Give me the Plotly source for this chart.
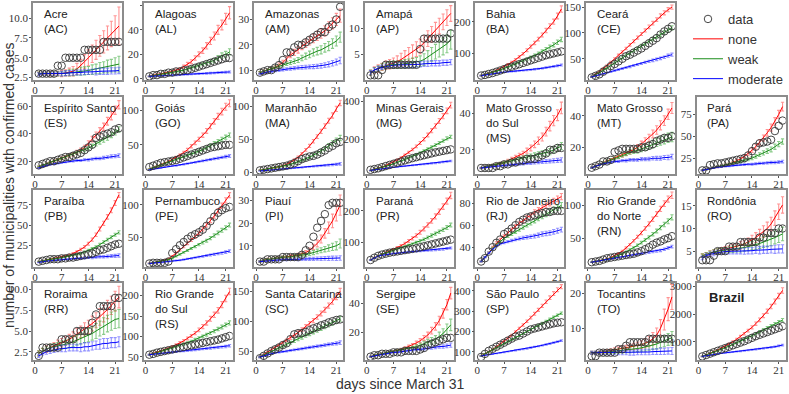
import plotly.graph_objects as go

# ── data ──────────────────────────────────────────────────────────────────────

DAYS = list(range(1, 23))

GRID = [
    ['AC', 'AL', 'AM', 'AP', 'BA', 'CE', None],
    ['ES', 'GO', 'MA', 'MG', 'MS', 'MT', 'PA'],
    ['PB', 'PE', 'PI', 'PR', 'RJ', 'RN', 'RO'],
    ['RR', 'RS', 'SC', 'SE', 'SP', 'TO', 'BR'],
]

LABELS = {
    'AC': 'Acre<br>(AC)', 'AL': 'Alagoas<br>(AL)', 'AM': 'Amazonas<br>(AM)',
    'AP': 'Amapá<br>(AP)', 'BA': 'Bahia<br>(BA)', 'CE': 'Ceará<br>(CE)',
    'ES': 'Espírito Santo<br>(ES)', 'GO': 'Goiás<br>(GO)', 'MA': 'Maranhão<br>(MA)',
    'MG': 'Minas Gerais<br>(MG)', 'MS': 'Mato Grosso<br>do Sul<br>(MS)',
    'MT': 'Mato Grosso<br>(MT)', 'PA': 'Pará<br>(PA)', 'PB': 'Paraíba<br>(PB)',
    'PE': 'Pernambuco<br>(PE)', 'PI': 'Piauí<br>(PI)', 'PR': 'Paraná<br>(PR)',
    'RJ': 'Rio de Janeiro<br>(RJ)', 'RN': 'Rio Grande<br>do Norte<br>(RN)',
    'RO': 'Rondônia<br>(RO)', 'RR': 'Roraima<br>(RR)', 'RS': 'Rio Grande<br>do Sul<br>(RS)',
    'SC': 'Santa Catarina<br>(SC)', 'SE': 'Sergipe<br>(SE)', 'SP': 'São Paulo<br>(SP)',
    'TO': 'Tocantins<br>(TO)', 'BR': '<b>Brazil</b>',
}

Y_TICKS = {
    'AC': [2.5, 5, 7.5, 10], 'AL': [0, 20, 40, 60], 'AM': [10, 20, 30], 'AP': [5, 10],
    'BA': [100, 200], 'CE': [50, 100, 150], 'ES': [20, 40, 60], 'GO': [50, 100],
    'MA': [0, 50, 100], 'MG': [200, 400], 'MS': [20, 40], 'MT': [20, 40],
    'PA': [25, 50, 75], 'PB': [25, 50, 75], 'PE': [50, 100], 'PI': [10, 20, 30],
    'PR': [100, 200], 'RJ': [40, 60, 80], 'RN': [50, 100], 'RO': [5, 10, 15],
    'RR': [2.5, 5, 7.5, 10], 'RS': [50, 100, 150, 200], 'SC': [50, 100, 150],
    'SE': [20, 40], 'SP': [100, 200, 300, 400], 'TO': [10, 20], 'BR': [1000, 2000, 3000],
}

Y_RANGE = {
    'AC': [2.2, 11.9], 'AL': [-1, 62], 'AM': [6.1, 36.5], 'AP': [0.1, 14.8],
    'BA': [16, 259], 'CE': [9, 158], 'ES': [10.7, 66.6], 'GO': [8, 119],
    'MA': [-2.5, 114], 'MG': [16, 423], 'MS': [6.7, 49], 'MT': [3, 52],
    'PA': [6.8, 95], 'PB': [-1.6, 93], 'PE': [4.6, 123], 'PI': [0.6, 34.7],
    'PR': [23, 265], 'RJ': [22, 92], 'RN': [5.6, 124], 'RO': [1.5, 18.5],
    'RR': [1.5, 10.8], 'RS': [42, 231], 'SC': [35, 164], 'SE': [0.7, 54],
    'SP': [60, 438], 'TO': [0.9, 23], 'BR': [340, 3120],
}

DATA = {
    'AC': [3, 3, 3, 3, 3, 4, 4, 5, 5, 5, 5, 5, 6, 6, 6, 6, 6, 7, 7, 7, 7, 7],
    'AL': [2, 3, 3, 4, 4, 5, 5, 6, 6, 7, 7, 8, 9, 10, 11, 12, 13, 14, 15, 16, 17, 17],
    'AM': [9, 9.5, 10, 10, 11, 12, 14, 17, 17, 19, 20, 20, 21, 22, 23, 24, 25, 25, 27, 28, 30, 35],
    'AP': [1, 1, 1, 2, 3, 3, 3, 3, 3, 3, 3, 3, 3, 6, 8, 8, 8, 8, 8, 8, 8, 9],
    'BA': [30, 32, 35, 38, 42, 46, 50, 55, 58, 62, 66, 70, 74, 78, 82, 86, 90, 94, 97, 100, 103, 106],
    'CE': [14, 17, 20, 25, 30, 36, 40, 45, 50, 55, 58, 62, 66, 70, 75, 80, 85, 90, 97, 103, 108, 113],
    'ES': [17, 18, 19, 20, 20, 21, 22, 23, 23, 24, 25, 26, 28, 30, 32, 37, 38, 39, 40, 41, 43, 44],
    'GO': [18, 20, 22, 24, 25, 26, 27, 28, 30, 32, 34, 36, 38, 40, 42, 44, 46, 47, 48, 49, 50, 50],
    'MA': [3, 4, 5, 6, 7, 8, 9, 10, 12, 14, 17, 20, 22, 24, 25, 27, 30, 33, 37, 40, 44, 46],
    'MG': [38, 42, 46, 52, 58, 64, 70, 76, 82, 88, 94, 100, 105, 110, 115, 120, 125, 130, 134, 138, 142, 146],
    'MS': [10, 10, 10, 10, 11, 11, 12, 12, 13, 13, 14, 14, 15, 15, 15, 16, 17, 18, 20, 20, 21, 21],
    'MT': [7, 8, 9, 11, 11, 12, 17, 18, 19, 19, 19, 19, 19, 20, 20, 21, 22, 24, 25, 26, 26, 27],
    'PA': [11, 11, 17, 18, 19, 19, 20, 21, 22, 23, 24, 25, 28, 33, 38, 42, 43, 44, 46, 56, 62, 68],
    'PB': [5, 6, 7, 8, 8, 8, 9, 9, 10, 10, 11, 12, 13, 14, 15, 17, 19, 20, 22, 24, 26, 27],
    'PE': [10, 11, 11, 11, 11, 13, 26, 32, 38, 43, 48, 52, 55, 58, 62, 68, 75, 82, 88, 92, 95, 97],
    'PI': [3, 3, 4, 4, 4, 4, 5, 5, 5, 5, 5, 6, 8, 10, 14, 18, 21, 24, 28, 29, 29, 29],
    'PR': [45, 52, 58, 62, 65, 68, 70, 72, 74, 76, 78, 80, 82, 85, 88, 91, 94, 97, 100, 103, 106, 109],
    'RJ': [27, 30, 36, 40, 44, 47, 52, 54, 57, 60, 63, 65, 67, 68, 69, 70, 71, 72, 72, 73, 73, 73],
    'RN': [13, 14, 15, 17, 19, 20, 21, 22, 23, 24, 25, 26, 28, 30, 33, 36, 40, 43, 45, 48, 50, 53],
    'RO': [3, 3, 3, 4, 5, 5, 5, 6, 6, 6, 7, 7, 7, 7, 7, 8, 8, 9, 9, 9, 10, 10],
    'RR': [2, 3, 3, 3, 3, 3, 4, 4, 4, 4, 5, 5, 5, 5, 6, 7, 8, 8, 8, 8, 9, 9],
    'RS': [55, 57, 60, 62, 64, 66, 68, 70, 72, 74, 76, 78, 80, 82, 84, 86, 88, 90, 92, 95, 98, 101],
    'SC': [38, 42, 46, 50, 53, 56, 60, 63, 70, 78, 80, 80, 82, 85, 88, 90, 93, 95, 98, 100, 102, 103],
    'SE': [3, 4, 4, 5, 5, 5, 6, 6, 6, 7, 7, 7, 7, 8, 9, 11, 12, 13, 14, 15, 16, 16],
    'SP': [75, 90, 105, 115, 125, 135, 145, 155, 165, 175, 180, 190, 200, 210, 215, 220, 225, 230, 235, 240, 243, 245],
    'TO': [2, 2, 3, 3, 3, 3, 3, 4, 4, 5, 6, 6, 6, 6, 6, 7, 7, 7, 7, 7, 7, 7],
    'BR': [470, 520, 570, 620, 670, 720, 770, 820, 870, 920, 970, 1020, 1080, 1140, 1200, 1250, 1300, 1350, 1400, 1450, 1500, 1560],
}

NONE = {
    'AC': [3, 3, 3, 3, 3, 3, 3, 3.1, 3.2, 3.3, 3.6, 4.0, 4.5, 5.0, 5.5, 6.0, 6.5, 7.0, 7.5, 8.0, 8.5, 9.0],
    'AL': [2, 3, 3.5, 4, 4.5, 5, 6, 7, 8, 10, 12, 14, 17, 20, 23, 27, 31, 35, 40, 44, 49, 54],
    'AM': [9, 9.5, 10, 10.5, 11, 12, 13, 14.5, 16, 17, 18, 19.5, 20.5, 21.5, 22.5, 23.5, 24.5, 25.5, 27, 28.5, 30, 31.5],
    'AP': [1.5, 2, 2.3, 2.6, 2.9, 3.1, 3.3, 3.6, 4, 4.5, 5, 5.5, 6, 6.5, 7.2, 8, 8.8, 9.6, 10.4, 11.2, 12, 12.8],
    'BA': [30, 33, 37, 41, 46, 52, 58, 65, 72, 80, 89, 99, 110, 121, 133, 145, 158, 172, 186, 200, 218, 240],
    'CE': [15, 20, 25, 31, 37, 43, 50, 57, 63, 70, 77, 84, 91, 98, 105, 112, 119, 126, 133, 139, 145, 150],
    'ES': [16, 17, 18, 19, 20, 21, 22, 23, 24, 25, 26.5, 28, 30, 33, 36, 39, 42, 45, 49, 53, 57, 61],
    'GO': [15, 17, 19, 21, 23, 26, 29, 32, 35, 39, 43, 48, 53, 58, 64, 70, 77, 84, 91, 98, 105, 110],
    'MA': [3, 4, 5, 6, 7, 8, 10, 12, 15, 19, 23, 28, 34, 40, 47, 54, 62, 70, 78, 86, 96, 105],
    'MG': [35, 40, 46, 53, 61, 70, 80, 91, 103, 116, 130, 145, 162, 180, 200, 222, 245, 270, 296, 322, 350, 380],
    'MS': [10, 10.5, 11, 11.5, 12, 12.5, 13, 14, 15, 16, 17, 18, 19.5, 21, 23, 25, 27, 30, 33, 36, 39, 43],
    'MT': [7, 8, 9, 10, 11, 12, 13, 14, 15, 16, 17, 18.5, 20, 22, 24, 26, 28.5, 31, 34, 37, 41, 45],
    'PA': [11, 12, 13, 14, 15, 16, 17, 18, 20, 22, 24, 27, 30, 34, 38, 43, 48, 54, 60, 67, 75, 84],
    'PB': [5, 6, 7, 8, 9, 10, 11, 12, 13, 15, 17, 20, 23, 27, 32, 38, 45, 52, 60, 68, 77, 87],
    'PE': [10, 11, 12, 13, 15, 17, 21, 26, 31, 36, 41, 46, 51, 57, 63, 69, 76, 83, 91, 99, 107, 115],
    'PI': [3, 3.5, 4, 4, 4.5, 4.5, 5, 5, 5.5, 5.5, 6, 6.5, 7, 8, 9.5, 11, 13, 15.5, 18, 21, 24.5, 28],
    'PR': [45, 52, 58, 63, 68, 73, 78, 84, 90, 97, 105, 113, 122, 132, 143, 155, 168, 182, 197, 213, 230, 248],
    'RJ': [27, 31, 35, 40, 44, 47, 50, 53, 56, 59, 62, 64, 67, 69, 72, 74, 76, 78, 80, 82, 84, 86],
    'RN': [13, 14, 15, 16, 18, 20, 23, 26, 30, 35, 40, 46, 52, 58, 65, 72, 79, 87, 95, 103, 110, 116],
    'RO': [4, 4.3, 4.6, 4.8, 5, 5.2, 5.4, 5.6, 5.8, 6, 6.3, 6.6, 7, 7.5, 8, 8.6, 9.3, 10, 11, 12.3, 13.7, 15.2],
    'RR': [2.3, 2.6, 2.8, 3, 3.2, 3.4, 3.6, 3.8, 4, 4.3, 4.6, 4.9, 5.2, 5.5, 5.9, 6.3, 6.7, 7.1, 7.6, 8.1, 8.6, 9.1],
    'RS': [55, 58, 61, 64, 67, 71, 75, 79, 84, 89, 95, 101, 108, 116, 124, 133, 143, 153, 164, 178, 193, 210],
    'SC': [40, 44, 48, 52, 56, 60, 64, 68, 72, 76, 81, 86, 91, 96, 101, 107, 113, 119, 126, 133, 141, 150],
    'SE': [3, 4, 4.5, 5, 5.5, 6, 6.5, 7, 8, 9, 10, 11, 12.5, 14, 16, 18, 21, 24, 28, 33, 39, 47],
    'SP': [80, 90, 100, 112, 125, 138, 152, 167, 182, 198, 215, 232, 250, 268, 287, 306, 326, 346, 366, 386, 405, 420],
    'TO': [3, 3, 3, 3.2, 3.4, 3.6, 3.8, 4, 4.2, 4.4, 4.6, 4.8, 5, 5.3, 5.7, 6.2, 7, 8, 10, 12.5, 15.5, 19],
    'BR': [470, 520, 580, 640, 700, 770, 840, 920, 1000, 1090, 1190, 1290, 1400, 1520, 1650, 1790, 1940, 2100, 2270, 2450, 2650, 2850],
}

WEAK = {
    'AC': [3, 3, 3, 3, 3, 3, 3, 3.05, 3.1, 3.15, 3.2, 3.3, 3.35, 3.4, 3.5, 3.6, 3.7, 3.8, 3.9, 4.0, 4.1, 4.2],
    'AL': [2, 2.5, 3, 3.5, 4, 4.5, 5, 5.5, 6, 7, 8, 9, 10, 11, 12, 13, 14, 15, 17, 19, 20, 22],
    'AM': [9, 9.5, 10, 10.5, 11, 11.5, 12, 12.5, 13, 13.5, 14, 14.8, 15.5, 16.2, 17, 17.5, 18, 18.8, 19.5, 20.5, 21.5, 23],
    'AP': [1.5, 2, 2.3, 2.6, 2.8, 3, 3, 3, 3.1, 3.2, 3.3, 3.4, 3.5, 3.7, 4, 4.5, 5, 5.5, 6, 6.5, 7, 7.8],
    'BA': [30, 33, 36, 40, 44, 48, 52, 57, 62, 67, 72, 77, 82, 88, 94, 100, 106, 113, 120, 127, 135, 144],
    'CE': [15, 19, 23, 27, 32, 37, 42, 47, 52, 57, 61, 66, 70, 75, 79, 84, 88, 93, 97, 101, 105, 110],
    'ES': [16, 17, 18, 19, 20, 21, 22, 23, 24, 25, 26, 27, 28, 29.5, 31, 32.5, 34, 35.5, 37, 39, 41, 43],
    'GO': [15, 17, 19, 21, 23, 25, 27, 29, 31, 33, 35, 37, 39, 41, 43, 46, 49, 52, 55, 58, 61, 64],
    'MA': [3, 4, 5, 6, 7, 8, 9, 10, 12, 14, 16, 18, 20, 23, 26, 29, 32, 36, 40, 44, 48, 52],
    'MG': [35, 40, 45, 51, 57, 63, 70, 77, 85, 93, 101, 110, 119, 128, 138, 148, 158, 169, 180, 192, 204, 212],
    'MS': [10, 10.5, 11, 11.5, 12, 12.5, 13, 13.5, 14, 14.5, 15, 15.5, 16, 16.5, 17, 17.5, 18, 18.5, 19, 20, 21, 22],
    'MT': [7, 8, 9, 10, 11, 12, 13, 14, 15, 16, 17, 17.5, 18, 19, 20, 21, 22, 23, 24, 25, 26, 26.5],
    'PA': [11, 12, 13, 14, 15, 16, 17, 18, 19, 20, 21, 22, 23.5, 25, 27, 29, 31, 33, 35, 38, 41, 44],
    'PB': [5, 6, 7, 8, 8.5, 9, 10, 11, 12, 13, 14, 15, 17, 19, 21, 23, 26, 29, 32, 35, 38, 41],
    'PE': [10, 11, 12, 13, 14, 16, 18, 21, 24, 27, 30, 33, 36, 39, 42, 45, 49, 53, 57, 61, 65, 69],
    'PI': [3, 3.5, 4, 4, 4.5, 4.5, 5, 5, 5, 5.5, 5.5, 6, 6, 6.5, 7, 7.5, 8, 8.5, 9, 9.5, 10, 11],
    'PR': [45, 52, 58, 63, 67, 71, 75, 79, 83, 87, 91, 95, 100, 105, 110, 116, 122, 128, 134, 140, 147, 155],
    'RJ': [27, 31, 35, 39, 42, 45, 48, 50, 52, 54, 56, 58, 60, 62, 64, 66, 68, 70, 72, 74, 76, 78],
    'RN': [13, 14, 15, 16, 17, 19, 21, 23, 26, 29, 32, 35, 39, 43, 47, 51, 56, 61, 66, 71, 76, 82],
    'RO': [4, 4.3, 4.6, 4.8, 5, 5.1, 5.2, 5.3, 5.4, 5.5, 5.6, 5.8, 6, 6.2, 6.4, 6.7, 7, 7.3, 7.6, 8, 8.4, 8.8],
    'RR': [2.3, 2.6, 2.8, 3, 3.1, 3.2, 3.3, 3.4, 3.5, 3.7, 3.9, 4.1, 4.3, 4.5, 4.7, 5, 5.3, 5.6, 5.9, 6.2, 6.4, 6.5],
    'RS': [55, 57, 60, 63, 66, 69, 72, 75, 78, 81, 84, 88, 92, 96, 100, 104, 108, 113, 118, 123, 128, 133],
    'SC': [40, 43, 46, 49, 52, 55, 58, 61, 64, 67, 70, 73, 76, 79, 82, 85, 88, 91, 94, 97, 100, 104],
    'SE': [3, 4, 4.5, 5, 5.5, 6, 6.5, 7, 7.5, 8, 8.5, 9, 10, 11, 12, 13, 14, 15, 17, 19, 22, 25],
    'SP': [80, 90, 100, 110, 120, 130, 140, 150, 160, 170, 180, 190, 200, 210, 220, 230, 240, 250, 260, 270, 280, 290],
    'TO': [3, 3, 3, 3.1, 3.2, 3.3, 3.4, 3.5, 3.6, 3.7, 3.8, 4, 4.2, 4.4, 4.6, 4.9, 5.2, 5.5, 5.9, 6.3, 6.8, 7.3],
    'BR': [470, 520, 570, 620, 670, 720, 780, 840, 900, 960, 1020, 1080, 1150, 1220, 1290, 1360, 1430, 1500, 1570, 1640, 1710, 1780],
}

MODERATE = {
    'AC': [2.9, 3, 3, 3, 3, 3, 3, 3.05, 3.1, 3.1, 3.15, 3.15, 3.2, 3.2, 3.25, 3.25, 3.3, 3.3, 3.3, 3.35, 3.35, 3.4],
    'AL': [2, 2, 2.2, 2.4, 2.6, 2.8, 3, 3, 3.2, 3.4, 3.6, 3.8, 4, 4.1, 4.2, 4.4, 4.6, 4.8, 5, 5.2, 5.4, 5.6],
    'AM': [8.5, 9, 9.2, 9.5, 9.8, 10, 10.2, 10.4, 10.6, 10.8, 11, 11.1, 11.2, 11.3, 11.4, 11.5, 11.7, 12, 12.3, 12.7, 13.2, 13.8],
    'AP': [1.5, 2, 2.3, 2.5, 2.7, 2.8, 2.9, 3, 3, 3, 3, 3, 3.1, 3.1, 3.2, 3.2, 3.3, 3.3, 3.3, 3.4, 3.4, 3.5],
    'BA': [30, 32, 34, 36, 38, 40, 41, 42, 43, 44, 45, 46, 47, 48, 50, 51, 53, 55, 57, 59, 61, 63],
    'CE': [15, 17, 19, 21, 23, 25, 27, 29, 31, 33, 35, 37, 39, 41, 43, 45, 47, 49, 51, 53, 56, 58],
    'ES': [15, 16, 17, 17.5, 18, 18.5, 19, 19.5, 20, 20, 20.5, 20.5, 21, 21, 21.5, 22, 22, 22.5, 23, 23.5, 23.7, 24],
    'GO': [14, 15, 16, 17, 18, 19, 20, 20, 21, 22, 23, 24, 25, 26, 27, 28, 29, 30, 31, 32, 33, 34],
    'MA': [2, 2.5, 3, 3.5, 4, 4.5, 5, 5.5, 6, 6.5, 7, 7.5, 8, 8.5, 9, 9.5, 10, 10.5, 11, 11.5, 12, 13],
    'MG': [35, 38, 41, 44, 47, 50, 52, 54, 56, 58, 60, 62, 64, 66, 68, 70, 72, 74, 76, 79, 82, 85],
    'MS': [10, 10.3, 10.6, 10.9, 11, 11.2, 11.4, 11.6, 11.8, 12, 12.2, 12.4, 12.6, 12.8, 13, 13.2, 13.4, 13.6, 13.8, 14, 14.2, 14.4],
    'MT': [7, 8, 9, 9.5, 10, 10.5, 11, 11, 11.5, 11.5, 12, 12, 12, 12.5, 12.5, 12.5, 13, 13, 13, 13.5, 13.5, 14],
    'PA': [11, 12, 13, 14, 14.5, 15, 15.5, 16, 16.5, 17, 17.5, 17.5, 18, 18, 18.5, 19, 19, 19.5, 20, 20, 20.5, 21],
    'PB': [4, 5, 5.5, 6, 6.5, 7, 7.5, 8, 8, 8.5, 9, 9, 9.5, 10, 10, 10.5, 11, 11, 11.5, 12, 12, 12.5],
    'PE': [10, 10.5, 11, 11.5, 12, 13, 14, 14.5, 15, 16, 17, 18, 19, 20, 21, 22, 23, 24, 25, 26, 27.5, 29],
    'PI': [3, 3.2, 3.4, 3.5, 3.6, 3.7, 3.8, 3.9, 4, 4, 4, 4.1, 4.1, 4.2, 4.2, 4.3, 4.3, 4.4, 4.4, 4.5, 4.5, 4.6],
    'PR': [45, 52, 57, 60, 62, 64, 66, 67, 68, 69, 70, 71, 72, 73, 74, 75, 76, 77, 78, 79, 81, 83],
    'RJ': [27, 31, 35, 38, 41, 43, 44, 45, 46, 47, 48, 48.5, 49, 49.5, 50, 51, 52, 52.5, 53, 54, 55, 56],
    'RN': [13, 14, 15, 16, 17, 18, 19, 20, 21, 22, 23, 24, 25, 26, 27, 28, 29, 30, 31, 33, 35, 37],
    'RO': [3.5, 4, 4.3, 4.5, 4.7, 4.8, 4.9, 5, 5, 5, 5, 5, 5.1, 5.1, 5.2, 5.2, 5.3, 5.3, 5.4, 5.4, 5.5, 5.5],
    'RR': [2, 2.3, 2.5, 2.6, 2.7, 2.8, 2.9, 2.9, 3, 3, 3, 3, 3.1, 3.1, 3.2, 3.3, 3.4, 3.5, 3.5, 3.6, 3.6, 3.7],
    'RS': [55, 56, 57, 58, 59, 60, 61, 62, 63, 64, 65, 66, 67, 68, 69, 70, 71, 72, 73, 74, 75, 77],
    'SC': [40, 42, 44, 46, 47, 48, 49, 50, 51, 52, 53, 54, 55, 56, 57, 58, 59, 60, 61, 62, 63, 64],
    'SE': [3, 3.5, 4, 4.5, 5, 5.5, 6, 6, 6.5, 7, 7, 7.5, 8, 8, 8.5, 9, 9, 9.5, 10, 10, 10.5, 11],
    'SP': [80, 83, 86, 89, 92, 95, 98, 101, 104, 107, 110, 113, 116, 120, 124, 128, 132, 136, 140, 145, 150, 155],
    'TO': [3, 3, 3, 3, 3, 3, 3, 3, 3, 3, 3, 3, 3.1, 3.1, 3.2, 3.2, 3.3, 3.3, 3.4, 3.4, 3.5, 3.5],
    'BR': [470, 495, 520, 545, 565, 585, 600, 615, 630, 645, 660, 675, 690, 705, 720, 740, 760, 780, 800, 820, 850, 880],
}

# half-widths of the error bars
NONE_ERR = {
    'AC': [0.2, 0.2, 0.2, 0.3, 0.3, 0.3, 0.4, 0.4, 0.5, 0.6, 0.7, 0.8, 0.9, 1.0, 1.1, 1.2, 1.3, 1.4, 1.5, 1.6, 1.8, 2.4],
    'AL': [0.3, 0.4, 0.5, 0.5, 0.6, 0.7, 0.8, 0.9, 1.0, 1.2, 1.4, 1.6, 1.8, 2.0, 2.3, 2.6, 3.0, 3.3, 3.7, 4.0, 4.5, 5.0],
    'AM': [0.4, 0.5, 0.5, 0.6, 0.7, 0.8, 0.9, 1.0, 1.1, 1.2, 1.3, 1.4, 1.5, 1.6, 1.7, 1.8, 1.9, 2.0, 2.1, 2.2, 2.4, 2.6],
    'AP': [0.5, 0.6, 0.7, 0.7, 0.8, 0.9, 1.0, 1.1, 1.2, 1.2, 1.3, 1.3, 1.4, 1.4, 1.4, 1.5, 1.5, 1.5, 1.5, 1.5, 1.5, 1.5],
    'BA': [1, 1, 1.5, 1.5, 2, 2, 2.5, 3, 3, 3.5, 4, 4, 4.5, 5, 5.5, 6, 6.5, 7, 7.5, 8, 9, 10],
    'CE': [1, 1, 1.5, 1.5, 1.5, 2, 2, 2, 2.5, 2.5, 2.5, 3, 3, 3, 3, 3.5, 3.5, 3.5, 4, 4, 4, 4],
    'ES': [0.5, 0.5, 0.6, 0.7, 0.8, 0.9, 1.0, 1.1, 1.2, 1.3, 1.4, 1.5, 1.6, 1.8, 2.0, 2.2, 2.4, 2.6, 2.8, 3.0, 3.0, 3.0],
    'GO': [0.5, 0.6, 0.7, 0.8, 0.9, 1.0, 1.2, 1.4, 1.6, 1.8, 2.0, 2.3, 2.6, 2.9, 3.2, 3.5, 3.8, 4.1, 4.4, 4.7, 5.0, 5.0],
    'MA': [0.3, 0.4, 0.5, 0.6, 0.7, 0.8, 0.9, 1.0, 1.2, 1.4, 1.6, 1.8, 2.0, 2.3, 2.6, 2.9, 3.2, 3.5, 3.8, 4.0, 4.0, 4.0],
    'MG': [1, 1.5, 2, 2, 2.5, 3, 3.5, 4, 4.5, 5, 6, 6.5, 7, 8, 9, 10, 11, 12, 13, 14, 15, 15],
    'MS': [0.4, 0.4, 0.5, 0.5, 0.6, 0.6, 0.7, 0.8, 0.9, 1.0, 1.1, 1.2, 1.4, 1.6, 1.8, 2.0, 2.2, 2.4, 2.6, 2.8, 3.0, 3.2],
    'MT': [0.4, 0.5, 0.5, 0.6, 0.7, 0.8, 0.9, 1.0, 1.1, 1.2, 1.3, 1.5, 1.7, 1.9, 2.1, 2.3, 2.5, 2.7, 2.9, 3.1, 3.3, 3.5],
    'PA': [0.5, 0.6, 0.7, 0.8, 0.9, 1.0, 1.1, 1.2, 1.4, 1.6, 1.8, 2.0, 2.3, 2.6, 2.9, 3.2, 3.5, 3.8, 4.1, 4.4, 4.7, 5.0],
    'PB': [0.3, 0.4, 0.5, 0.5, 0.6, 0.7, 0.8, 0.9, 1.0, 1.1, 1.2, 1.4, 1.6, 1.8, 2.0, 2.2, 2.4, 2.6, 2.8, 3.0, 3.0, 3.0],
    'PE': [0.5, 0.6, 0.7, 0.8, 0.9, 1.0, 1.2, 1.4, 1.6, 1.8, 2.0, 2.2, 2.4, 2.6, 2.8, 3.0, 3.2, 3.4, 3.6, 3.8, 4.0, 4.0],
    'PI': [0.3, 0.3, 0.4, 0.4, 0.4, 0.5, 0.5, 0.5, 0.6, 0.6, 0.7, 0.8, 0.9, 1.0, 1.2, 1.5, 1.8, 2.1, 2.5, 3.0, 3.5, 4.5],
    'PR': [1, 1.5, 2, 2, 2.5, 2.5, 3, 3, 3.5, 4, 4.5, 5, 5.5, 6, 6.5, 7, 7.5, 8, 8.5, 9, 9.5, 10],
    'RJ': [0.5, 0.6, 0.7, 0.8, 1.0, 1.1, 1.2, 1.3, 1.4, 1.5, 1.6, 1.7, 1.8, 1.9, 2.0, 2.1, 2.2, 2.3, 2.4, 2.5, 2.6, 2.8],
    'RN': [0.4, 0.5, 0.6, 0.7, 0.8, 0.9, 1.0, 1.2, 1.4, 1.6, 1.8, 2.0, 2.3, 2.6, 2.9, 3.2, 3.5, 3.8, 4.1, 4.4, 4.7, 5.0],
    'RO': [0.4, 0.4, 0.5, 0.5, 0.5, 0.6, 0.6, 0.6, 0.7, 0.7, 0.8, 0.8, 0.9, 1.0, 1.1, 1.2, 1.3, 1.4, 1.5, 1.6, 1.7, 1.8],
    'RR': [0.3, 0.3, 0.4, 0.4, 0.4, 0.5, 0.5, 0.5, 0.6, 0.6, 0.7, 0.7, 0.8, 0.8, 0.9, 0.9, 1.0, 1.0, 1.1, 1.1, 1.2, 1.3],
    'RS': [1, 1, 1.5, 1.5, 2, 2, 2.5, 2.5, 3, 3, 3.5, 3.5, 4, 4.5, 5, 5.5, 6, 6.5, 7, 7.5, 8, 8],
    'SC': [1, 1, 1.2, 1.4, 1.6, 1.8, 2, 2.2, 2.4, 2.6, 2.8, 3, 3.2, 3.4, 3.6, 3.8, 4, 4.2, 4.4, 4.6, 4.8, 5],
    'SE': [0.3, 0.4, 0.4, 0.5, 0.5, 0.6, 0.6, 0.7, 0.8, 0.9, 1.0, 1.1, 1.3, 1.5, 1.7, 2.0, 2.3, 2.6, 3.0, 3.3, 3.6, 4.0],
    'SP': [2, 2, 2.5, 3, 3, 3.5, 4, 4, 4.5, 5, 5.5, 6, 6, 6.5, 7, 7.5, 8, 8.5, 9, 9.5, 10, 10],
    'TO': [0.4, 0.4, 0.4, 0.5, 0.5, 0.5, 0.6, 0.6, 0.7, 0.7, 0.8, 0.9, 1.0, 1.1, 1.3, 1.5, 1.8, 2.1, 2.5, 3.0, 3.3, 3.6],
    'BR': [10, 12, 15, 18, 20, 22, 25, 28, 30, 35, 40, 45, 50, 55, 60, 65, 70, 75, 80, 90, 95, 100],
}

WEAK_ERR = {
    'AC': [0.2, 0.2, 0.2, 0.2, 0.3, 0.3, 0.3, 0.3, 0.4, 0.4, 0.4, 0.5, 0.5, 0.5, 0.6, 0.6, 0.7, 0.7, 0.8, 0.8, 0.9, 1.0],
    'AL': [0.3, 0.3, 0.4, 0.4, 0.5, 0.5, 0.6, 0.6, 0.7, 0.8, 0.9, 1.0, 1.1, 1.2, 1.3, 1.5, 1.6, 1.8, 2.0, 2.2, 2.4, 2.6],
    'AM': [0.4, 0.4, 0.5, 0.5, 0.6, 0.6, 0.7, 0.7, 0.8, 0.9, 1.0, 1.1, 1.2, 1.3, 1.4, 1.5, 1.6, 1.7, 1.8, 1.9, 2.0, 2.0],
    'AP': [0.5, 0.5, 0.5, 0.6, 0.6, 0.6, 0.7, 0.7, 0.7, 0.8, 0.8, 0.9, 0.9, 1.0, 1.1, 1.2, 1.3, 1.4, 1.5, 1.6, 1.7, 1.8],
    'BA': [1, 1, 1, 1.5, 1.5, 1.5, 2, 2, 2.5, 2.5, 3, 3, 3.5, 3.5, 4, 4.5, 5, 5.5, 6, 6.5, 7, 7],
    'CE': [1, 1, 1, 1.5, 1.5, 1.5, 2, 2, 2, 2.5, 2.5, 2.5, 3, 3, 3, 3, 3.5, 3.5, 3.5, 3.5, 4, 4],
    'ES': [0.4, 0.5, 0.5, 0.6, 0.6, 0.7, 0.7, 0.8, 0.8, 0.9, 1.0, 1.1, 1.2, 1.3, 1.4, 1.5, 1.6, 1.7, 1.8, 1.9, 2.0, 2.0],
    'GO': [0.4, 0.5, 0.6, 0.7, 0.8, 0.9, 1.0, 1.1, 1.2, 1.3, 1.4, 1.5, 1.6, 1.8, 2.0, 2.2, 2.4, 2.6, 2.8, 3.0, 3.0, 3.0],
    'MA': [0.3, 0.4, 0.5, 0.6, 0.7, 0.8, 0.9, 1.0, 1.1, 1.2, 1.4, 1.6, 1.8, 2.0, 2.3, 2.6, 2.9, 3.2, 3.5, 3.8, 4.0, 4.0],
    'MG': [1, 1, 1.5, 1.5, 2, 2, 2.5, 2.5, 3, 3.5, 4, 4, 4.5, 5, 5.5, 6, 6.5, 7, 7.5, 8, 8, 8],
    'MS': [0.4, 0.4, 0.5, 0.5, 0.5, 0.6, 0.6, 0.7, 0.7, 0.8, 0.9, 1.0, 1.1, 1.2, 1.3, 1.4, 1.5, 1.6, 1.7, 1.8, 1.9, 2.0],
    'MT': [0.4, 0.5, 0.6, 0.7, 0.8, 0.9, 1.0, 1.1, 1.2, 1.3, 1.4, 1.5, 1.6, 1.8, 2.0, 2.2, 2.4, 2.5, 2.6, 2.8, 3.0, 3.0],
    'PA': [0.5, 0.5, 0.6, 0.7, 0.8, 0.9, 1.0, 1.1, 1.2, 1.3, 1.4, 1.5, 1.6, 1.8, 2.0, 2.2, 2.4, 2.6, 2.8, 3.0, 3.0, 3.0],
    'PB': [0.3, 0.4, 0.4, 0.5, 0.5, 0.6, 0.6, 0.7, 0.7, 0.8, 0.9, 1.0, 1.1, 1.2, 1.3, 1.4, 1.5, 1.6, 1.7, 1.8, 1.9, 2.0],
    'PE': [0.4, 0.5, 0.5, 0.6, 0.7, 0.8, 0.9, 1.0, 1.1, 1.2, 1.3, 1.4, 1.6, 1.8, 2.0, 2.2, 2.4, 2.6, 2.8, 3.0, 3.0, 3.0],
    'PI': [0.3, 0.3, 0.3, 0.4, 0.4, 0.4, 0.5, 0.5, 0.5, 0.6, 0.6, 0.7, 0.7, 0.8, 0.9, 1.0, 1.1, 1.2, 1.4, 1.6, 1.8, 2.0],
    'PR': [1, 1, 1.5, 1.5, 2, 2, 2, 2.5, 2.5, 3, 3, 3.5, 3.5, 4, 4, 4.5, 5, 5, 5.5, 5.5, 6, 6],
    'RJ': [0.5, 0.6, 0.7, 0.8, 0.9, 1.0, 1.1, 1.2, 1.3, 1.4, 1.5, 1.6, 1.7, 1.8, 1.9, 2.0, 2.1, 2.2, 2.3, 2.4, 2.5, 2.6],
    'RN': [0.4, 0.5, 0.5, 0.6, 0.7, 0.8, 0.9, 1.0, 1.1, 1.2, 1.4, 1.6, 1.8, 2.0, 2.2, 2.4, 2.6, 2.9, 3.2, 3.5, 3.8, 4.0],
    'RO': [0.4, 0.4, 0.4, 0.5, 0.5, 0.5, 0.6, 0.6, 0.7, 0.7, 0.8, 0.8, 0.9, 0.9, 1.0, 1.1, 1.2, 1.3, 1.4, 1.4, 1.5, 1.5],
    'RR': [0.3, 0.3, 0.3, 0.4, 0.4, 0.4, 0.5, 0.5, 0.5, 0.6, 0.6, 0.7, 0.7, 0.8, 0.8, 0.9, 0.9, 1.0, 1.0, 1.1, 1.1, 1.1],
    'RS': [1, 1, 1, 1.5, 1.5, 1.5, 2, 2, 2, 2.5, 2.5, 2.5, 3, 3, 3, 3.5, 3.5, 4, 4, 4.5, 4.5, 5],
    'SC': [1, 1, 1.2, 1.4, 1.6, 1.8, 2, 2.2, 2.4, 2.6, 2.8, 3, 3, 3.2, 3.2, 3.4, 3.4, 3.6, 3.6, 3.8, 3.8, 4],
    'SE': [0.3, 0.4, 0.4, 0.5, 0.5, 0.6, 0.6, 0.7, 0.8, 0.9, 1.0, 1.1, 1.3, 1.5, 1.7, 2.0, 2.3, 2.6, 3.0, 3.3, 3.6, 4.0],
    'SP': [2, 2, 2, 2.5, 2.5, 3, 3, 3, 3.5, 3.5, 4, 4, 4, 4.5, 4.5, 5, 5, 5, 5.5, 5.5, 6, 6],
    'TO': [0.4, 0.4, 0.4, 0.5, 0.5, 0.5, 0.6, 0.6, 0.7, 0.7, 0.8, 0.8, 0.9, 1.0, 1.1, 1.2, 1.3, 1.4, 1.5, 1.6, 1.7, 1.8],
    'BR': [10, 10, 12, 14, 16, 18, 20, 22, 24, 26, 28, 30, 32, 35, 38, 41, 44, 47, 50, 53, 56, 60],
}

MOD_ERR = {
    'AC': [0.2, 0.2, 0.2, 0.2, 0.2, 0.2, 0.3, 0.3, 0.3, 0.3, 0.3, 0.3, 0.3, 0.3, 0.3, 0.4, 0.4, 0.4, 0.4, 0.4, 0.4, 0.4],
    'AL': [0.2, 0.2, 0.2, 0.3, 0.3, 0.3, 0.3, 0.4, 0.4, 0.4, 0.4, 0.5, 0.5, 0.5, 0.5, 0.6, 0.6, 0.6, 0.7, 0.7, 0.8, 0.8],
    'AM': [0.3, 0.3, 0.4, 0.4, 0.4, 0.5, 0.5, 0.5, 0.6, 0.6, 0.6, 0.7, 0.7, 0.7, 0.8, 0.8, 0.9, 0.9, 1.0, 1.1, 1.2, 1.3],
    'AP': [0.4, 0.4, 0.4, 0.4, 0.4, 0.4, 0.4, 0.4, 0.4, 0.5, 0.5, 0.5, 0.5, 0.5, 0.5, 0.5, 0.5, 0.5, 0.5, 0.5, 0.5, 0.5],
    'BA': [1, 1, 1, 1, 1, 1, 1, 1.5, 1.5, 1.5, 1.5, 1.5, 2, 2, 2, 2, 2, 2.5, 2.5, 2.5, 3, 3],
    'CE': [1, 1, 1, 1, 1, 1.5, 1.5, 1.5, 1.5, 1.5, 2, 2, 2, 2, 2, 2, 2.5, 2.5, 2.5, 2.5, 3, 3],
    'ES': [0.4, 0.4, 0.4, 0.5, 0.5, 0.5, 0.5, 0.6, 0.6, 0.6, 0.7, 0.7, 0.7, 0.8, 0.8, 0.9, 0.9, 1.0, 1.0, 1.1, 1.2, 1.3],
    'GO': [0.4, 0.4, 0.5, 0.5, 0.5, 0.6, 0.6, 0.7, 0.7, 0.8, 0.8, 0.9, 0.9, 1.0, 1.1, 1.2, 1.3, 1.4, 1.5, 1.6, 1.8, 2.0],
    'MA': [0.3, 0.3, 0.3, 0.4, 0.4, 0.4, 0.5, 0.5, 0.5, 0.6, 0.6, 0.7, 0.7, 0.8, 0.9, 1.0, 1.1, 1.2, 1.3, 1.5, 1.7, 2.0],
    'MG': [1, 1, 1, 1, 1.5, 1.5, 1.5, 1.5, 2, 2, 2, 2, 2.5, 2.5, 2.5, 3, 3, 3, 3.5, 3.5, 4, 4],
    'MS': [0.3, 0.3, 0.3, 0.4, 0.4, 0.4, 0.5, 0.5, 0.5, 0.6, 0.6, 0.7, 0.7, 0.8, 0.8, 0.9, 0.9, 1.0, 1.0, 1.1, 1.1, 1.2],
    'MT': [0.3, 0.4, 0.4, 0.5, 0.5, 0.6, 0.6, 0.7, 0.7, 0.8, 0.8, 0.9, 0.9, 1.0, 1.0, 1.1, 1.1, 1.2, 1.2, 1.3, 1.4, 1.5],
    'PA': [0.4, 0.4, 0.5, 0.5, 0.5, 0.6, 0.6, 0.7, 0.7, 0.8, 0.8, 0.9, 0.9, 1.0, 1.0, 1.1, 1.1, 1.2, 1.3, 1.4, 1.5, 1.5],
    'PB': [0.3, 0.3, 0.4, 0.4, 0.5, 0.5, 0.6, 0.6, 0.7, 0.8, 0.9, 1.0, 1.1, 1.2, 1.3, 1.4, 1.5, 1.6, 1.7, 1.8, 1.9, 2.0],
    'PE': [0.4, 0.4, 0.5, 0.5, 0.5, 0.6, 0.6, 0.7, 0.7, 0.8, 0.8, 0.9, 1.0, 1.1, 1.2, 1.3, 1.4, 1.5, 1.6, 1.7, 1.9, 2.0],
    'PI': [0.2, 0.3, 0.3, 0.3, 0.4, 0.4, 0.4, 0.5, 0.5, 0.5, 0.6, 0.6, 0.6, 0.7, 0.7, 0.7, 0.8, 0.8, 0.9, 0.9, 1.0, 1.0],
    'PR': [1, 1, 1, 1, 1.5, 1.5, 1.5, 1.5, 1.5, 2, 2, 2, 2, 2, 2.5, 2.5, 2.5, 2.5, 3, 3, 3, 3],
    'RJ': [0.5, 0.5, 0.6, 0.6, 0.7, 0.8, 0.9, 1.0, 1.1, 1.2, 1.3, 1.4, 1.5, 1.6, 1.7, 1.8, 1.9, 2.0, 2.0, 2.1, 2.2, 2.2],
    'RN': [0.4, 0.4, 0.5, 0.5, 0.6, 0.6, 0.7, 0.7, 0.8, 0.8, 0.9, 1.0, 1.1, 1.2, 1.3, 1.4, 1.5, 1.6, 1.7, 1.8, 1.9, 2.0],
    'RO': [0.4, 0.4, 0.4, 0.5, 0.5, 0.5, 0.5, 0.6, 0.6, 0.6, 0.6, 0.7, 0.7, 0.7, 0.7, 0.8, 0.8, 0.8, 0.8, 0.9, 0.9, 0.9],
    'RR': [0.2, 0.2, 0.3, 0.3, 0.3, 0.3, 0.4, 0.4, 0.4, 0.4, 0.4, 0.5, 0.5, 0.5, 0.5, 0.5, 0.6, 0.6, 0.6, 0.6, 0.6, 0.6],
    'RS': [1, 1, 1, 1, 1, 1.5, 1.5, 1.5, 1.5, 1.5, 2, 2, 2, 2, 2, 2, 2.5, 2.5, 2.5, 2.5, 3, 3],
    'SC': [1, 1, 1, 1, 1.2, 1.2, 1.2, 1.4, 1.4, 1.4, 1.6, 1.6, 1.6, 1.8, 1.8, 2, 2, 2.2, 2.2, 2.4, 2.6, 3],
    'SE': [0.2, 0.3, 0.3, 0.3, 0.4, 0.4, 0.4, 0.5, 0.5, 0.5, 0.6, 0.6, 0.7, 0.7, 0.8, 0.8, 0.9, 1.0, 1.1, 1.2, 1.3, 1.5],
    'SP': [1, 1, 1.5, 1.5, 1.5, 2, 2, 2, 2, 2.5, 2.5, 2.5, 2.5, 3, 3, 3, 3, 3, 3.5, 3.5, 3.5, 4],
    'TO': [0.4, 0.4, 0.4, 0.5, 0.5, 0.5, 0.6, 0.6, 0.6, 0.6, 0.7, 0.7, 0.7, 0.7, 0.8, 0.8, 0.8, 0.8, 0.9, 0.9, 0.9, 1.0],
    'BR': [8, 8, 9, 10, 10, 11, 12, 13, 14, 15, 16, 17, 18, 19, 20, 21, 22, 23, 24, 26, 28, 30],
}

MODELS = [
    ('none', NONE, NONE_ERR, '#ff0000', 'rgba(255,60,60,0.55)'),
    ('weak', WEAK, WEAK_ERR, '#1a8c1a', 'rgba(40,160,40,0.55)'),
    ('moderate', MODERATE, MOD_ERR, '#0000ff', 'rgba(60,60,255,0.55)'),
]

# ── layout geometry (pixels in a 789 x 394 canvas) ───────────────────────────

W, H = 789, 394
COL_LEFT = [33 + 110.6 * i for i in range(7)]
COL_W = 89
ROW_TOP = [3, 97, 190, 283]
ROW_H = 77

TICK_FONT = dict(family='Liberation Serif', size=11, color='#333333')
LABEL_FONT = dict(family='Liberation Sans', size=11.5, color='#222222')

fig = go.Figure()
layout = {}
annotations = []
legend_done = False

n = 0
for r, row in enumerate(GRID):
    for c, st in enumerate(row):
        if st is None:
            continue
        n += 1
        sfx = '' if n == 1 else str(n)
        xa, ya = 'x' + sfx, 'y' + sfx

        x0 = COL_LEFT[c] / W
        x1 = (COL_LEFT[c] + COL_W) / W
        y1 = 1 - ROW_TOP[r] / H
        y0 = 1 - (ROW_TOP[r] + ROW_H) / H

        for name, src, err, col, ecol in MODELS:
            fig.add_trace(go.Scatter(
                x=DAYS, y=src[st], mode='lines', name=name,
                xaxis=xa, yaxis=ya, legendgroup=name, showlegend=not legend_done,
                line=dict(color=col, width=1),
                error_y=dict(type='data', array=err[st], color=ecol,
                             thickness=1.1, width=1.6),
            ))
        fig.add_trace(go.Scatter(
            x=DAYS, y=DATA[st], mode='markers', name='data',
            xaxis=xa, yaxis=ya, legendgroup='data', showlegend=not legend_done,
            legendrank=1,
            marker=dict(symbol='circle-open', size=7.5, color='#333333',
                        line=dict(width=0.9)),
        ))
        legend_done = True

        axis_common = dict(showline=True, mirror=True, linecolor='#8c8c8c',
                           linewidth=1.5, showgrid=False, zeroline=False,
                           ticks='outside', ticklen=2, tickcolor='#555555',
                           tickfont=TICK_FONT, automargin=False)
        layout['xaxis' + sfx] = dict(
            domain=[x0, x1], anchor=ya, range=[-0.5, 22.8],
            tickvals=[0, 7, 14, 21], ticklabelstandoff=-3, **axis_common)
        layout['yaxis' + sfx] = dict(
            domain=[y0, y1], anchor=xa, range=Y_RANGE[st],
            tickvals=Y_TICKS[st], ticklabelstandoff=-1,
            tickformat='.1f' if st in ('AC', 'RR') else '',
            **axis_common)

        annotations.append(dict(
            text=LABELS[st], xref=xa + ' domain', yref=ya + ' domain',
            x=0.1 if st != 'BR' else 0.12, y=0.96 if st != 'BR' else 0.93,
            xanchor='left', yanchor='top', align='left', showarrow=False,
            font=LABEL_FONT if st != 'BR' else dict(family='Liberation Sans', size=13, color='#222222'),
        ))

annotations.append(dict(
    text='days since March 31', xref='paper', yref='paper',
    x=400 / W, y=1 - 384 / H, xanchor='center', yanchor='middle', showarrow=False,
    font=dict(family='Liberation Sans', size=14, color='#333333'),
))
annotations.append(dict(
    text='number of municipalities with confirmed cases', xref='paper', yref='paper',
    x=9 / W, y=1 - 185 / H, xanchor='center', yanchor='middle', showarrow=False,
    textangle=-90, font=dict(family='Liberation Sans', size=14, color='#333333'),
))

fig.update_layout(
    width=W, height=H,
    margin=dict(l=0, r=0, t=0, b=0),
    paper_bgcolor='white', plot_bgcolor='white',
    annotations=annotations,
    legend=dict(x=688 / W, y=1 - 4 / H, xanchor='left', yanchor='top',
                font=dict(family='Liberation Sans', size=13, color='#333333'),
                itemwidth=30, tracegroupgap=0, traceorder='normal',
                bgcolor='rgba(0,0,0,0)'),
    **layout,
)

# the page body has a default 8px margin; drop it so the figure fills the window
fig.write_html('out.html', config={'displayModeBar': False},
               post_script="document.body.style.margin='0';document.body.style.overflow='hidden';")
